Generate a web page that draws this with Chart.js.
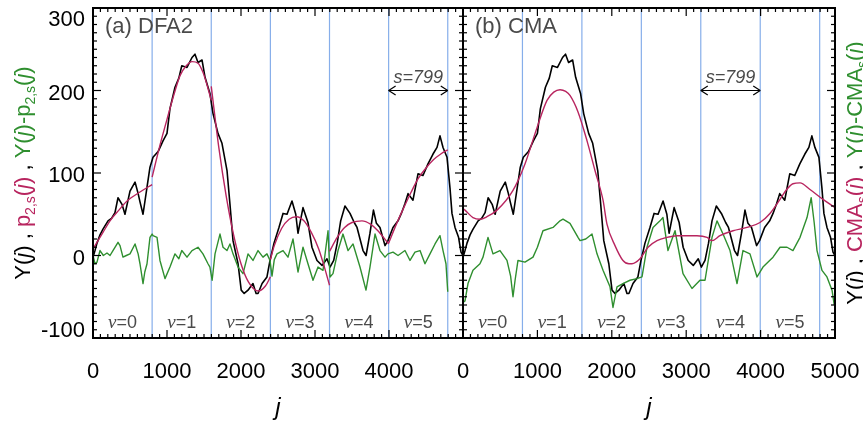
<!DOCTYPE html>
<html>
<head>
<meta charset="utf-8">
<script src="https://cdn.jsdelivr.net/npm/chart.js@4.4.1/dist/chart.umd.min.js"></script>
<style>
  html, body { margin: 0; padding: 0; background: #fff; }
  #wrap { position: relative; width: 863px; height: 426px; }
  #wrap canvas { position: absolute; left: 0; top: 0; }
</style>
</head>
<body>
<div id="wrap">
  <canvas id="dfa" width="863" height="426"></canvas>
  <canvas id="cma" width="863" height="426"></canvas>
</div>
<script>
// segment boundaries (s = 799) and axis ticks
const segBounds = [0, 799, 1598, 2397, 3196, 3995, 4794]
const segNames = ['0', '1', '2', '3', '4', '5']
const xTicks = [0, 1000, 2000, 3000, 4000, 5000]
const yTicks = [-100, 0, 100, 200, 300]
const windowLabel = 's=799'
const arrowLevel = 200

// profile Y(j), shared by both panels
const profileJ = [0, 27, 54, 95, 135, 203, 250, 297, 338, 392, 432, 500, 568, 610, 635, 676, 730, 770, 811, 880,
  946, 1000, 1040, 1108, 1160, 1200, 1270, 1338, 1378, 1419, 1473, 1514, 1581, 1622, 1689, 1743, 1811, 1851, 1892, 1960,
  2003, 2043, 2095, 2162, 2204, 2230, 2285, 2351, 2392, 2446, 2513, 2568, 2622, 2689, 2740, 2770, 2838, 2905, 2959, 3027,
  3095, 3162, 3203, 3253, 3300, 3347, 3405, 3473, 3530, 3568, 3649, 3690, 3743, 3790, 3830, 3878, 3946, 3986, 4054, 4122,
  4167, 4216, 4257, 4324, 4392, 4459, 4527, 4595, 4649, 4689, 4730, 4784, 4824, 4851, 4892, 4940, 4973, 5000]
const profileY = [-2, 6, 15, 25, 32, 42, 45, 52, 70, 62, 50, 78, 89, 75, 65, 50, 83, 107, 119, 126,
  139, 148, 178, 204, 215, 230, 228, 240, 244, 234, 237, 216, 196, 172, 148, 136, 103, 62, 18, -10,
  -42, -46, -42, -34, -46, -46, -34, -26, -6, 15, 34, 51, 50, 66, 50, 27, 58, 40, 10, -6,
  -12, -4, -14, -6, 15, 42, 60, 51, 40, 34, 6, 0, 27, 55, 39, 34, 12, 18, 34, 42,
  51, 63, 75, 67, 99, 97, 111, 123, 131, 145, 131, 119, 82, 51, 34, 22, 4, 0]

// DFA2: quadratic fit p_{2,s}(j) in each segment
const fitJ = [
  [0, 135, 230, 350, 460, 635, 799],
  [799, 900, 1000, 1100, 1176, 1260, 1338, 1420, 1486, 1540, 1598],
  [1598, 1700, 1800, 1900, 2000, 2100, 2230, 2330, 2397],
  [2397, 2450, 2550, 2650, 2750, 2850, 2950, 3050, 3130, 3196],
  [3196, 3300, 3400, 3500, 3635, 3750, 3850, 3995],
  [3995, 4100, 4200, 4300, 4400, 4500, 4600, 4700, 4794]
]
const fitY = [
  [8, 28, 42, 55, 66, 77, 86],
  [95, 132, 165, 197, 218, 230, 235, 233, 222, 207, 188],
  [205, 131, 72, 25, -10, -32, -43, -37, -26],
  [-5, 12, 33, 44, 47, 42, 28, 8, -15, -36],
  [5, 22, 34, 40, 42, 38, 30, 14],
  [15, 38, 58, 77, 94, 106, 116, 123, 128]
]

// DFA2 residual Y(j) - p_{2,s}(j)
const dfaResJ = [0, 27, 54, 95, 140, 189, 230, 270, 338, 365, 405, 450, 500, 568, 610, 635, 676, 700, 730, 770,
  799, 811, 865, 905, 973, 1040, 1108, 1160, 1200, 1270, 1338, 1419, 1486, 1554, 1580, 1610, 1649, 1716, 1757, 1811,
  1851, 1892, 1960, 2027, 2095, 2162, 2230, 2297, 2351, 2392, 2419, 2450, 2486, 2568, 2635, 2703, 2770, 2838, 2905, 2973,
  3041, 3108, 3176, 3203, 3243, 3311, 3378, 3446, 3514, 3608, 3689, 3743, 3811, 3878, 3946, 3986, 4054, 4122, 4216, 4284,
  4351, 4419, 4486, 4554, 4622, 4689, 4730, 4770, 4794]
const dfaResY = [0, -10, -8, 6, 0, 3, 0, 6, 16, 12, -2, 0, 2, 14, 2, -10, -34, -20, -10, 22,
  26, 24, 22, -6, -28, -14, 2, -4, 6, -2, 6, 10, 2, -10, -14, -30, 2, 26, 10, 6,
  14, 2, -14, -22, 2, -6, 6, -2, 2, -6, -25, -5, 2, 6, -2, 20, -20, 10, -10, -30,
  -14, -18, 30, -26, -22, 6, 26, 6, 14, -14, -42, -14, 26, 6, -2, 2, 4, 0, 6, -6,
  4, 6, -10, 2, 14, 24, 6, -10, -44]

// CMA trend
const cmaJ = [0, 27, 134, 228, 322, 457, 672, 833, 995, 1129, 1220, 1304, 1380, 1438, 1546, 1667, 1774, 1882, 1935, 2043,
  2150, 2230, 2271, 2379, 2487, 2608, 2742, 2876, 3011, 3145, 3280, 3347, 3454, 3629, 3817, 3992, 4126, 4261, 4350, 4435,
  4530, 4664, 4839, 5000]
const cmaY = [57, 55, 46, 44, 47, 55, 79, 111, 155, 188, 198, 201, 199, 194, 174, 139, 103, 67, 38, 12,
  -6, -10, -10, -4, 10, 18, 22, 24, 24, 24, 22, 18, 24, 30, 34, 40, 51, 68, 80, 87,
  88, 80, 68, 58]

// CMA residual Y(j) - CMA(j)
const cmaResJ = [0, 27, 67, 134, 228, 269, 336, 403, 497, 591, 640, 672, 700, 739, 833, 941, 1000, 1075, 1210, 1304,
  1344, 1438, 1546, 1573, 1650, 1734, 1801, 1882, 1976, 2016, 2070, 2150, 2244, 2339, 2406, 2473, 2554, 2648, 2688, 2755,
  2850, 2957, 3078, 3185, 3253, 3347, 3414, 3495, 3589, 3683, 3763, 3857, 3952, 4032, 4167, 4261, 4355, 4435, 4530, 4624,
  4680, 4720, 4758, 4825, 4892, 4960, 4990]
const cmaResY = [-57, -55, -34, -18, -10, -2, 22, 2, 6, -6, -25, -50, -30, -6, -8, -2, 10, 30, 34, 42,
  44, 39, 22, 18, 20, 26, 2, -18, -38, -63, -38, -34, -30, -28, -26, 10, 34, 42, 46, 6,
  30, -22, -40, -30, -30, 22, 42, 26, 6, -34, 6, 2, -26, -14, -2, 10, 10, 6, 22, 46,
  70, 40, 6, -18, -26, -42, -60]

const K = '#000000'
const CRIMSON = '#b8255f'
const GREEN = '#2f8f2f'
const BLUE = '#86aeea'
const GRAY = '#4a4a4a'
const SANS = '"Liberation Sans", Arial, Helvetica, sans-serif'

const pts = (xs, ys) => xs.map((x, i) => ({ x, y: ys[i] }))

function line(ctx, x1, y1, x2, y2) {
  ctx.beginPath()
  ctx.moveTo(x1, y1)
  ctx.lineTo(x2, y2)
  ctx.stroke()
}

// rotated multi-colour axis title, runs = [text, colour, flag]
function drawRuns(ctx, runs, cx, cy, size) {
  const fontOf = r => (r[2] === 'it' ? 'italic ' : '') + (r[2] === 'sub' ? Math.round(size * 0.65) : size) + 'px ' + SANS
  let w = 0
  runs.forEach(r => { ctx.font = fontOf(r); w += ctx.measureText(r[0]).width })
  ctx.save()
  ctx.translate(cx, cy)
  ctx.rotate(-Math.PI / 2)
  ctx.textAlign = 'left'
  ctx.textBaseline = 'alphabetic'
  let pos = -w / 2
  const base = size * 0.36
  runs.forEach(r => {
    ctx.font = fontOf(r)
    ctx.fillStyle = r[1]
    ctx.fillText(r[0], pos, r[2] === 'sub' ? base + size * 0.22 : base)
    pos += ctx.measureText(r[0]).width
  })
  ctx.restore()
}

function drawArrowHead(ctx, x, y, dir) {
  line(ctx, x, y, x - dir * 7, y - 4.5)
  line(ctx, x, y, x - dir * 7, y + 4.5)
}

const panelDecor = {
  id: 'panelDecor',
  beforeDatasetsDraw(chart, args, o) {
    const { ctx, chartArea: a, scales: { x } } = chart
    ctx.save()
    ctx.strokeStyle = BLUE
    ctx.lineWidth = 1.2
    segBounds.slice(1).forEach(b => {
      const px = x.getPixelForValue(b)
      line(ctx, px, a.top, px, a.bottom)
    })
    ctx.restore()
  },
  afterDatasetsDraw(chart, args, o) {
    const { ctx, chartArea: a, scales: { x, y } } = chart
    ctx.save()
    ctx.strokeStyle = K
    ctx.lineWidth = 1.2
    // minor and major ticks, pointing inward on all four sides
    for (let v = 0; v <= 5000; v += 100) {
      const px = x.getPixelForValue(v)
      const len = xTicks.includes(v) ? 8 : 4
      line(ctx, px, a.bottom, px, a.bottom - len)
      line(ctx, px, a.top, px, a.top + len)
    }
    for (let v = -100; v <= 300; v += 10) {
      const py = y.getPixelForValue(v)
      const len = yTicks.includes(v) ? 8 : 4
      line(ctx, a.left, py, a.left + len, py)
      line(ctx, a.right, py, a.right - len, py)
    }
    ctx.lineWidth = 2
    ctx.strokeRect(a.left, a.top, a.right - a.left, a.bottom - a.top)

    // tick labels
    ctx.fillStyle = K
    ctx.font = '22px ' + SANS
    ctx.textAlign = 'center'
    ctx.textBaseline = 'middle'
    o.xLabels.forEach(v => ctx.fillText(String(v), x.getPixelForValue(v), 372))
    if (o.yLabels) {
      ctx.textAlign = 'right'
      yTicks.forEach(v => {
        let py = y.getPixelForValue(v) + 3
        py = Math.min(Math.max(py, a.top + 12), a.bottom - 7)
        ctx.fillText(String(v), a.left - 8, py)
      })
    }
    ctx.font = 'italic 24px ' + SANS
    ctx.textAlign = 'center'
    ctx.fillText('j', (a.left + a.right) / 2, 408)

    // panel label
    ctx.fillStyle = GRAY
    ctx.font = '22px ' + SANS
    ctx.textAlign = 'left'
    ctx.textBaseline = 'alphabetic'
    ctx.fillText(o.label, a.left + 12, 33)

    // segment index labels
    segNames.forEach((n, i) => {
      const cx = x.getPixelForValue((segBounds[i] + segBounds[i] + 799) / 2)
      ctx.font = 'italic 19px "Liberation Serif", "DejaVu Serif", serif'
      const nuW = ctx.measureText('\u03bd').width
      ctx.font = '18px ' + SANS
      const restW = ctx.measureText('=' + n).width
      const left = cx - (nuW + restW) / 2
      ctx.font = 'italic 19px "Liberation Serif", "DejaVu Serif", serif'
      ctx.fillText('\u03bd', left, 328)
      ctx.font = '18px ' + SANS
      ctx.fillText('=' + n, left + nuW, 328)
    })

    // window width arrow
    const x1 = x.getPixelForValue(o.arrow[0])
    const x2 = x.getPixelForValue(o.arrow[1])
    const ya = y.getPixelForValue(arrowLevel)
    ctx.strokeStyle = K
    ctx.lineWidth = 1.2
    line(ctx, x1, ya, x2, ya)
    drawArrowHead(ctx, x1, ya, -1)
    drawArrowHead(ctx, x2, ya, 1)
    ctx.fillStyle = GRAY
    ctx.font = 'italic 18px ' + SANS
    ctx.textAlign = 'center'
    ctx.fillText(windowLabel, (x1 + x2) / 2, 83)

    drawRuns(ctx, o.title, o.titleX, (a.top + a.bottom) / 2, 22)
    ctx.restore()
  }
}

function lineSet(data, color, width, order, smooth) {
  return {
    data, borderColor: color, borderWidth: width, pointRadius: 0, fill: false, order,
    borderJoinStyle: 'round', tension: 0,
    cubicInterpolationMode: smooth ? 'monotone' : 'default'
  }
}

function makePanel(id, datasets, decor, left, right) {
  return new Chart(document.getElementById(id), {
    type: 'line',
    data: { datasets },
    options: {
      responsive: false,
      animation: false,
      events: [],
      layout: { padding: { left, right, top: 8, bottom: 88 } },
      plugins: { legend: { display: false }, tooltip: { enabled: false }, panelDecor: decor },
      scales: {
        x: { type: 'linear', min: 0, max: 5000, display: false },
        y: { type: 'linear', min: -100, max: 300, display: false }
      }
    },
    plugins: [panelDecor]
  })
}

const dfaSets = [lineSet(pts(profileJ, profileY), K, 1.6, 3, false),
  lineSet(pts(dfaResJ, dfaResY), GREEN, 1.4, 2, false)]
fitJ.forEach((js, i) => dfaSets.push(lineSet(pts(js, fitY[i]), CRIMSON, 1.4, 1, true)))

makePanel('dfa', dfaSets, {
  label: '(a) DFA2',
  xLabels: [0, 1000, 2000, 3000, 4000],
  yLabels: true,
  arrow: [segBounds[5], segBounds[6]],
  titleX: 22,
  title: [
    ['Y(', K], ['j', K, 'it'], [')', K], [' , ', K],
    ['p', CRIMSON], ['2,s', CRIMSON, 'sub'], ['(', CRIMSON], ['j', CRIMSON, 'it'], [')', CRIMSON], [' , ', K],
    ['Y(', GREEN], ['j', GREEN, 'it'], [')-p', GREEN], ['2,s', GREEN, 'sub'], ['(', GREEN], ['j', GREEN, 'it'], [')', GREEN]
  ]
}, 93, 400)

makePanel('cma', [
  lineSet(pts(profileJ, profileY), K, 1.6, 3, false),
  lineSet(pts(cmaResJ, cmaResY), GREEN, 1.4, 2, false),
  lineSet(pts(cmaJ, cmaY), CRIMSON, 1.4, 1, true)
], {
  label: '(b) CMA',
  xLabels: xTicks,
  yLabels: false,
  arrow: [segBounds[4], segBounds[5]],
  titleX: 854,
  title: [
    ['Y(', K], ['j', K, 'it'], [')', K], [' , ', K],
    ['CMA', CRIMSON], ['s', CRIMSON, 'sub'], ['(', CRIMSON], ['j', CRIMSON, 'it'], [')', CRIMSON], [' , ', K],
    ['Y(', GREEN], ['j', GREEN, 'it'], [')-CMA', GREEN], ['s', GREEN, 'sub'], ['(', GREEN], ['j', GREEN, 'it'], [')', GREEN]
  ]
}, 463, 28)
</script>
</body>
</html>
